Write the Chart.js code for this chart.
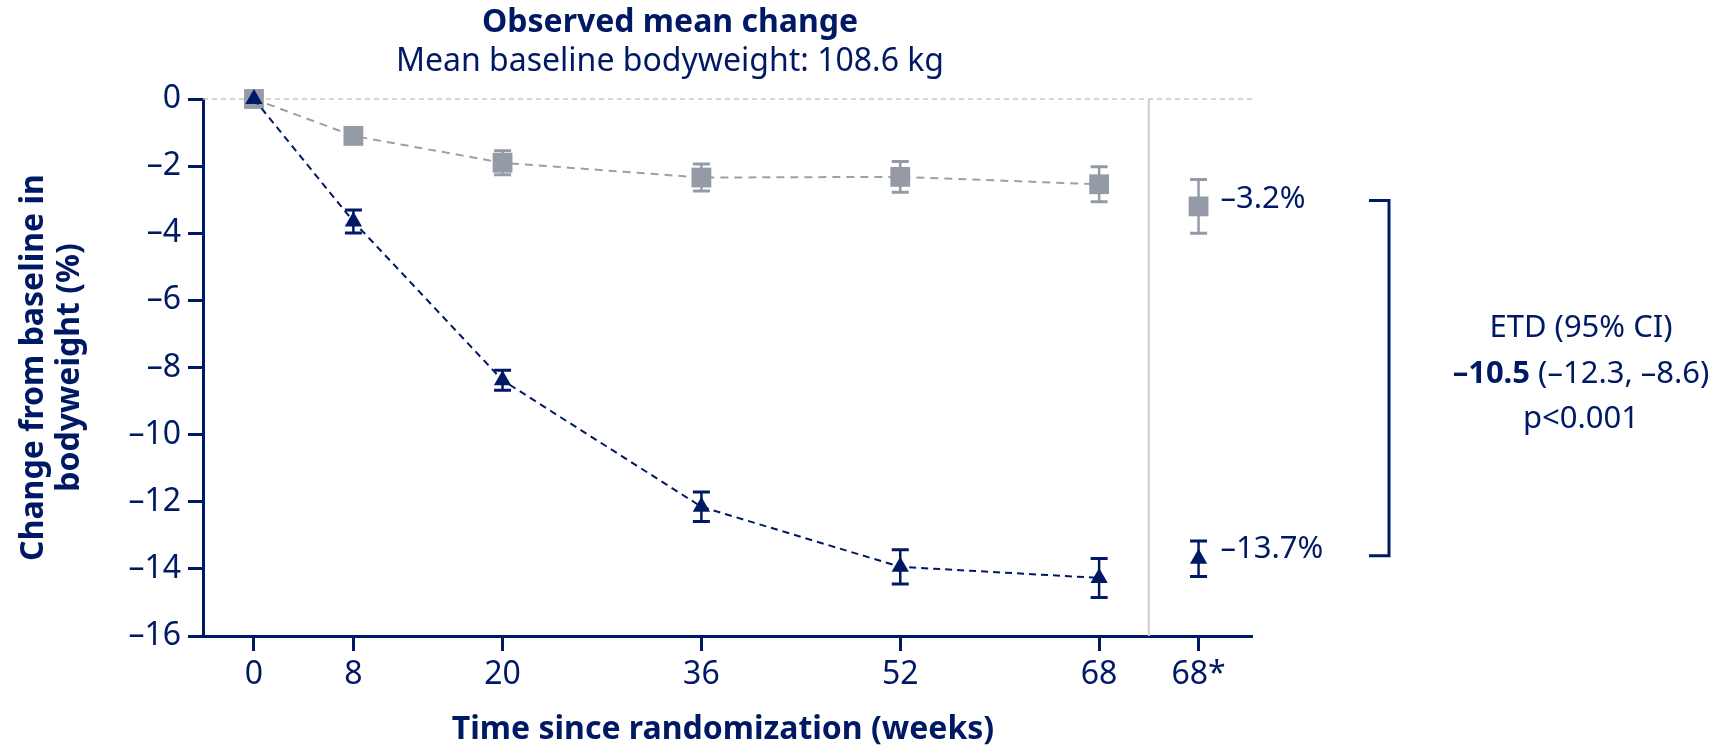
<!DOCTYPE html>
<html>
<head>
<meta charset="utf-8">
<script src="https://cdn.jsdelivr.net/npm/chart.js@4"></script>
<style>
  html, body { margin: 0; padding: 0; background: #fff; }
</style>
</head>
<body>
<canvas id="graficoPeso" width="1729" height="746"></canvas>
<script>
// weeks since randomization
const weeks = [0, 8, 20, 36, 52, 68];
// observed mean change from baseline (%), with +/- error
const drugMean = [0, -3.65, -8.38, -12.15, -13.94, -14.27];
const drugErr = [0, 0.34, 0.3, 0.44, 0.51, 0.58];
const placeboMean = [0, -1.1, -1.9, -2.34, -2.32, -2.54];
const placeboErr = [0, 0.2, 0.36, 0.4, 0.46, 0.52];
// the 68* end-of-treatment estimate, drawn apart from the lines
const endPos = [76];
const drugEnd = [-13.7];
const drugEndErr = [0.53];
const placeboEnd = [-3.2];
const placeboEndErr = [0.8];

const xTicks = [0, 8, 20, 36, 52, 68, 76];
const xTickLabels = ['0', '8', '20', '36', '52', '68', '68*'];
const yTicks = [0, -2, -4, -6, -8, -10, -12, -14, -16];

const navy = '#001965';
const grey = '#949aa6';
const FONT = '"Noto Sans", "Open Sans", sans-serif';

const pts = (xs, ys) => xs.map((x, i) => ({ x: x, y: ys[i] }));
const dash = v => (v < 0 ? '\u2013' + Math.abs(v) : String(v));

const extras = {
    id: 'extras',
    beforeDatasetsDraw(chart) {
        const { ctx, chartArea, scales: { x, y } } = chart;
        const y0 = y.getPixelForValue(0);
        ctx.save();
        // dashed zero line
        ctx.strokeStyle = '#cdc6bf';
        ctx.lineWidth = 1.5;
        ctx.setLineDash([5, 4]);
        ctx.beginPath();
        ctx.moveTo(chartArea.left, y0);
        ctx.lineTo(chartArea.right, y0);
        ctx.stroke();
        // separator before 68*
        ctx.setLineDash([]);
        ctx.strokeStyle = '#d5cdc6';
        ctx.lineWidth = 2;
        const xs = x.getPixelForValue(72);
        ctx.beginPath();
        ctx.moveTo(xs, y0);
        ctx.lineTo(xs, chartArea.bottom);
        ctx.stroke();
        // error bars
        chart.data.datasets.forEach(ds => {
            ds.errors.forEach((e, j) => {
                if (!e) return;
                const p = ds.data[j];
                const px = x.getPixelForValue(p.x);
                const top = y.getPixelForValue(p.y + e);
                const bot = y.getPixelForValue(p.y - e);
                ctx.strokeStyle = ds.pointBackgroundColor;
                ctx.lineWidth = 2.5;
                ctx.beginPath();
                ctx.moveTo(px, top);
                ctx.lineTo(px, bot);
                ctx.stroke();
                ctx.lineWidth = 3;
                ctx.beginPath();
                ctx.moveTo(px - 8.5, top);
                ctx.lineTo(px + 8.5, top);
                ctx.moveTo(px - 8.5, bot);
                ctx.lineTo(px + 8.5, bot);
                ctx.stroke();
            });
        });
        ctx.restore();
    },
    afterDraw(chart) {
        const { ctx, scales: { x, y } } = chart;
        const yc = (chart.chartArea.top + chart.chartArea.bottom) / 2;
        ctx.save();
        ctx.fillStyle = navy;
        ctx.textBaseline = 'alphabetic';
        ctx.textAlign = 'center';

        ctx.font = 'bold 32px ' + FONT;
        ctx.fillText('Observed mean change', 670, 32);
        ctx.font = '32px ' + FONT;
        ctx.fillText('Mean baseline bodyweight: 108.6 kg', 670, 71);

        // axis titles
        ctx.font = 'bold 32px ' + FONT;
        ctx.fillText('Time since randomization (weeks)', 723, 739);
        [['Change from baseline in', 43], ['bodyweight (%)', 79]].forEach(([t, bx]) => {
            ctx.save();
            ctx.translate(bx, yc);
            ctx.rotate(-Math.PI / 2);
            ctx.fillText(t, 0, 0);
            ctx.restore();
        });

        // end values
        ctx.font = '31px ' + FONT;
        ctx.textAlign = 'left';
        const lx = x.getPixelForValue(endPos[0]) + 22;
        ctx.fillText(dash(placeboEnd[0]) + '%', lx, y.getPixelForValue(placeboEnd[0]) + 2);
        ctx.fillText(dash(drugEnd[0]) + '%', lx, y.getPixelForValue(drugEnd[0]) - 1);

        // bracket
        const bTop = y.getPixelForValue(placeboEnd[0]) - 6;
        const bBot = y.getPixelForValue(drugEnd[0]) - 3;
        ctx.strokeStyle = navy;
        ctx.lineWidth = 3;
        ctx.beginPath();
        ctx.moveTo(1369, bTop);
        ctx.lineTo(1389, bTop);
        ctx.lineTo(1389, bBot);
        ctx.lineTo(1369, bBot);
        ctx.stroke();

        // ETD text
        const cx = 1581;
        ctx.textAlign = 'center';
        ctx.fillText('ETD (95% CI)', cx, 337);
        ctx.fillText('p<0.001', cx, 428);
        ctx.textAlign = 'left';
        const boldPart = '\u201310.5';
        const restPart = ' (\u201312.3, \u20138.6)';
        ctx.font = 'bold 31px ' + FONT;
        const wb = ctx.measureText(boldPart).width;
        ctx.font = '31px ' + FONT;
        const wr = ctx.measureText(restPart).width;
        const sx = cx - (wb + wr) / 2;
        ctx.font = 'bold 31px ' + FONT;
        ctx.fillText(boldPart, sx, 383);
        ctx.font = '31px ' + FONT;
        ctx.fillText(restPart, sx + wb, 383);
        ctx.restore();
    }
};

const drugStyle = {
    borderColor: navy,
    backgroundColor: navy,
    pointBackgroundColor: navy,
    pointStyle: 'triangle',
    pointRadius: 10,
    pointBorderWidth: 0,
    clip: false
};
const placeboStyle = {
    borderColor: '#9aa0ab',
    backgroundColor: grey,
    pointBackgroundColor: grey,
    pointStyle: 'rect',
    pointRadius: 14,
    pointBorderWidth: 0,
    clip: false
};

const config = {
    type: 'scatter',
    data: {
        datasets: [
            Object.assign({ label: 'Drug', data: pts(weeks, drugMean), errors: drugErr,
                showLine: true, borderWidth: 2, borderDash: [7, 5] }, drugStyle),
            Object.assign({ label: 'Drug 68*', data: pts(endPos, drugEnd), errors: drugEndErr,
                showLine: false }, drugStyle),
            Object.assign({ label: 'Placebo', data: pts(weeks, placeboMean), errors: placeboErr,
                showLine: true, borderWidth: 2, borderDash: [8, 6] }, placeboStyle),
            Object.assign({ label: 'Placebo 68*', data: pts(endPos, placeboEnd), errors: placeboEndErr,
                showLine: false }, placeboStyle)
        ]
    },
    options: {
        responsive: false,
        animation: false,
        layout: { padding: { top: 99, right: 477, left: 0, bottom: 0 } },
        plugins: {
            legend: { display: false },
            tooltip: { enabled: false }
        },
        scales: {
            x: {
                type: 'linear',
                min: -4.1,
                max: 80.3,
                afterFit: s => { s.height = 110; },
                afterBuildTicks: s => { s.ticks = xTicks.map(v => ({ value: v })); },
                border: { color: navy, width: 3 },
                grid: { drawOnChartArea: false, tickLength: 15, tickWidth: 3, tickColor: navy },
                ticks: {
                    color: navy,
                    padding: 5,
                    font: { family: FONT, size: 32 },
                    callback: v => xTickLabels[xTicks.indexOf(v)]
                }
            },
            y: {
                min: -16,
                max: 0,
                afterFit: s => { s.width = 203; },
                afterBuildTicks: s => { s.ticks = yTicks.map(v => ({ value: v })); },
                border: { color: navy, width: 3 },
                grid: { drawOnChartArea: false, tickLength: 15, tickWidth: 3, tickColor: navy },
                ticks: {
                    color: navy,
                    padding: 7,
                    font: { family: FONT, size: 32 },
                    callback: v => dash(v)
                }
            }
        }
    },
    plugins: [extras]
};

new Chart(document.getElementById('graficoPeso'), config);
</script>
</body>
</html>
